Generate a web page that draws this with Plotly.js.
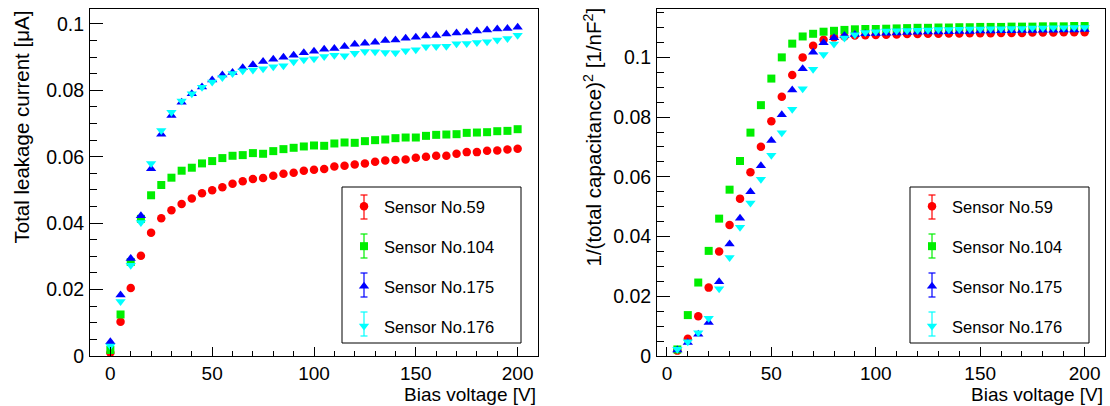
<!DOCTYPE html>
<html><head><meta charset="utf-8">
<script src="https://cdn.plot.ly/plotly-3.0.1.min.js"></script>
<style>body{margin:0;background:#fff}#chart{width:1110px;height:406px}</style>
</head><body><div id="chart"></div>
<script>
// ---------- data ----------
const sensorNames = ['Sensor No.59', 'Sensor No.104', 'Sensor No.175', 'Sensor No.176'];

// Left: leakage current vs bias voltage
const biasIV = [0,5,10,15,20,25,30,35,40,45,50,55,60,65,70,75,80,85,90,95,100,105,110,115,120,125,130,135,140,145,150,155,160,165,170,175,180,185,190,195,200];
const currentNo59 = [0.001,0.0103,0.0205,0.0302,0.0371,0.0415,0.0439,0.0458,0.0474,0.049,0.0499,0.0508,0.0519,0.0526,0.0533,0.0536,0.0543,0.0549,0.0552,0.0558,0.0561,0.0563,0.0571,0.0573,0.0577,0.058,0.0585,0.0589,0.059,0.0592,0.0597,0.06,0.0603,0.0603,0.0609,0.0614,0.0614,0.0618,0.0619,0.0622,0.0624];
const currentNo104 = [0.0018,0.0125,0.0283,0.0413,0.0484,0.0515,0.0537,0.0558,0.0567,0.058,0.0587,0.0596,0.0603,0.0605,0.0611,0.0609,0.0617,0.0623,0.0627,0.0631,0.0634,0.0633,0.064,0.0643,0.0642,0.0647,0.065,0.0652,0.0656,0.0658,0.0658,0.0663,0.0666,0.0667,0.0668,0.0672,0.0673,0.0674,0.0677,0.0678,0.0683];
const currentNo175 = [0.0043,0.0184,0.0294,0.0422,0.0564,0.0668,0.0724,0.0764,0.079,0.081,0.0831,0.0846,0.0854,0.0868,0.0877,0.0887,0.0894,0.09,0.0906,0.0913,0.0918,0.0924,0.0926,0.0932,0.0939,0.0942,0.0945,0.095,0.0952,0.0957,0.096,0.0964,0.0965,0.097,0.0973,0.0975,0.0979,0.0982,0.0985,0.0986,0.099];
const currentNo176 = [0.003,0.0164,0.0273,0.0402,0.058,0.0679,0.0734,0.0768,0.079,0.0809,0.0825,0.0839,0.0851,0.0859,0.0861,0.0865,0.0871,0.0874,0.0886,0.0892,0.0895,0.0902,0.0906,0.0904,0.0912,0.0917,0.0916,0.0914,0.0913,0.0919,0.0922,0.0931,0.0932,0.0933,0.094,0.0941,0.0944,0.0946,0.0952,0.0956,0.0966];

// Right: 1/C^2 vs bias voltage
const biasCV = [5,10,15,20,25,30,35,40,45,50,55,60,65,70,75,80,85,90,95,100,105,110,115,120,125,130,135,140,145,150,155,160,165,170,175,180,185,190,195,200];
const invCap2No59 = [0.0018,0.0058,0.0133,0.0229,0.035,0.0439,0.0527,0.0615,0.0701,0.0786,0.0868,0.0941,0.1,0.1039,0.1059,0.1067,0.107,0.1073,0.1074,0.1075,0.1076,0.1077,0.1078,0.1078,0.1079,0.1079,0.108,0.108,0.1081,0.1081,0.1081,0.1082,0.1082,0.1082,0.1083,0.1083,0.1083,0.1084,0.1084,0.1084];
const invCap2No104 = [0.0022,0.0137,0.0246,0.0352,0.046,0.0557,0.0653,0.0748,0.084,0.0929,0.1,0.1046,0.107,0.1079,0.1086,0.1089,0.1092,0.1094,0.1095,0.1095,0.1096,0.1097,0.1098,0.1099,0.1099,0.11,0.11,0.1101,0.1101,0.1102,0.1102,0.1102,0.1103,0.1103,0.1103,0.1104,0.1104,0.1104,0.1105,0.1105];
const invCap2No175 = [0.002,0.0045,0.0073,0.0112,0.0249,0.0375,0.0461,0.055,0.0637,0.0722,0.0808,0.0891,0.0962,0.1017,0.1049,0.1066,0.1073,0.1077,0.1079,0.108,0.1081,0.1082,0.1083,0.1084,0.1085,0.1085,0.1086,0.1087,0.1087,0.1088,0.1088,0.1089,0.1089,0.109,0.109,0.1091,0.1091,0.1092,0.1092,0.1093];
const invCap2No176 = [0.0023,0.0048,0.0078,0.0126,0.0225,0.033,0.0431,0.0512,0.0592,0.0672,0.0748,0.0826,0.0895,0.096,0.101,0.1045,0.1065,0.1076,0.1083,0.1086,0.1088,0.1089,0.109,0.1091,0.1092,0.1093,0.1093,0.1094,0.1095,0.1095,0.1096,0.1096,0.1097,0.1097,0.1098,0.1098,0.1099,0.1099,0.11,0.11];

// ---------- styling ----------
const colors = ['#ff0000', '#00ee00', '#0000ff', '#00ffff'];
const symbols = ['circle', 'square', 'triangle-up', 'triangle-down'];
const sizes = [8.5, 8, 9, 9];
const FONT = 'Liberation Sans, Arial, Helvetica, sans-serif';

const ivSeries = [currentNo59, currentNo104, currentNo175, currentNo176];
const cvSeries = [invCap2No59, invCap2No104, invCap2No175, invCap2No176];

const traces = [];
ivSeries.forEach((ys, i) => traces.push({
  type: 'scatter', mode: 'markers', x: biasIV, y: ys, name: sensorNames[i],
  xaxis: 'x', yaxis: 'y', legend: 'legend', legendgroup: 'l' + i,
  marker: {color: colors[i], symbol: symbols[i], size: sizes[i], line: {width: 0}}
}));
cvSeries.forEach((ys, i) => traces.push({
  type: 'scatter', mode: 'markers', x: biasCV, y: ys, name: sensorNames[i],
  xaxis: 'x2', yaxis: 'y2', legend: 'legend2', legendgroup: 'r' + i,
  marker: {color: colors[i], symbol: symbols[i], size: sizes[i], line: {width: 0}}
}));

const W = 1110, H = 406;
const px = v => v / W, py = v => (H - v) / H;

function xAxis(domain) {
  return {
    domain: domain, range: null, showgrid: false, zeroline: false,
    showline: true, mirror: true, linecolor: '#000', linewidth: 1,
    ticks: 'inside', ticklen: 9, tickcolor: '#000', tickwidth: 1, dtick: 50, tick0: 0,
    minor: {ticks: 'inside', ticklen: 5, tickcolor: '#000', dtick: 10, tick0: 0},
    tickfont: {family: FONT, size: 19, color: '#000'}, ticklabelstandoff: 0
  };
}
function yAxis(range) {
  return {
    domain: [py(356), py(9)], range: range, showgrid: false, zeroline: false,
    showline: true, mirror: true, linecolor: '#000', linewidth: 1,
    ticks: 'inside', ticklen: 13, tickcolor: '#000', tickwidth: 1, dtick: 0.02, tick0: 0,
    minor: {ticks: 'inside', ticklen: 7, tickcolor: '#000', dtick: 0.005, tick0: 0},
    tickfont: {family: FONT, size: 19.5, color: '#000'}, ticklabelstandoff: 1
  };
}

const xa1 = xAxis([px(90), px(538)]); xa1.range = [-10, 210];
const xa2 = xAxis([px(657), px(1105)]); xa2.range = [-4.75, 209.75];
const ya1 = yAxis([0, 0.1045]);
const ya2 = yAxis([0, 0.1162]); ya2.anchor = 'x2';
xa2.anchor = 'y2';

function legendBox(x0) {
  return {
    x: px(x0 + 2), y: py(189), xanchor: 'left', yanchor: 'top',
    bgcolor: 'rgba(0,0,0,0)', borderwidth: 0,
    font: {family: FONT, size: 16.5, color: '#000'},
    tracegroupgap: 15.5, traceorder: 'grouped', itemclick: false
  };
}

// legend frames and the error-bar glyphs beside the legend markers
const legendFrames = [[342, 521], [910, 1089]];
const legendMarkerX = [364, 932];
const legendRowY = [207, 246, 285, 324];
const shapes = [];
legendFrames.forEach(([a, b]) => shapes.push({
  type: 'rect', xref: 'paper', yref: 'paper', x0: px(a), x1: px(b), y0: py(343), y1: py(187),
  line: {color: '#000', width: 1}, fillcolor: '#fff', layer: 'below'
}));
legendMarkerX.forEach(mx => legendRowY.forEach((ry, i) => {
  const c = colors[i];
  shapes.push({type: 'line', xref: 'paper', yref: 'paper', x0: px(mx), x1: px(mx), y0: py(ry - 12), y1: py(ry + 12), line: {color: c, width: 1.2}, layer: 'above'});
  shapes.push({type: 'line', xref: 'paper', yref: 'paper', x0: px(mx - 3.5), x1: px(mx + 3.5), y0: py(ry - 12), y1: py(ry - 12), line: {color: c, width: 1.2}, layer: 'above'});
  shapes.push({type: 'line', xref: 'paper', yref: 'paper', x0: px(mx - 3.5), x1: px(mx + 3.5), y0: py(ry + 12), y1: py(ry + 12), line: {color: c, width: 1.2}, layer: 'above'});
}));

const xTitleFont = {family: FONT, size: 19, color: '#000'};
const yTitleFont = {family: FONT, size: 20.5, color: '#000'};
const layout = {
  width: W, height: H, margin: {l: 0, r: 0, t: 0, b: 0},
  paper_bgcolor: '#fff', plot_bgcolor: '#fff', showlegend: true,
  xaxis: xa1, yaxis: ya1, xaxis2: xa2, yaxis2: ya2,
  legend: legendBox(342), legend2: legendBox(910),
  shapes: shapes,
  annotations: [
    {text: 'Bias voltage [V]', xref: 'paper', yref: 'paper', x: px(538), y: py(394),
     xanchor: 'right', yanchor: 'middle', showarrow: false, font: xTitleFont},
    {text: 'Bias voltage [V]', xref: 'paper', yref: 'paper', x: px(1105), y: py(394),
     xanchor: 'right', yanchor: 'middle', showarrow: false, font: xTitleFont},
    {text: 'Total leakage current [μA]', xref: 'paper', yref: 'paper', x: px(21), y: py(9),
     xanchor: 'center', yanchor: 'top', textangle: -90, showarrow: false, font: yTitleFont},
    {text: '1/(total capacitance)<sup>2</sup> [1/nF<sup>2</sup>]', xref: 'paper', yref: 'paper', x: px(592), y: py(6),
     xanchor: 'center', yanchor: 'top', textangle: -90, showarrow: false, font: yTitleFont}
  ]
};

Plotly.newPlot('chart', traces, layout, {staticPlot: true, displayModeBar: false});
</script>
</body></html>
